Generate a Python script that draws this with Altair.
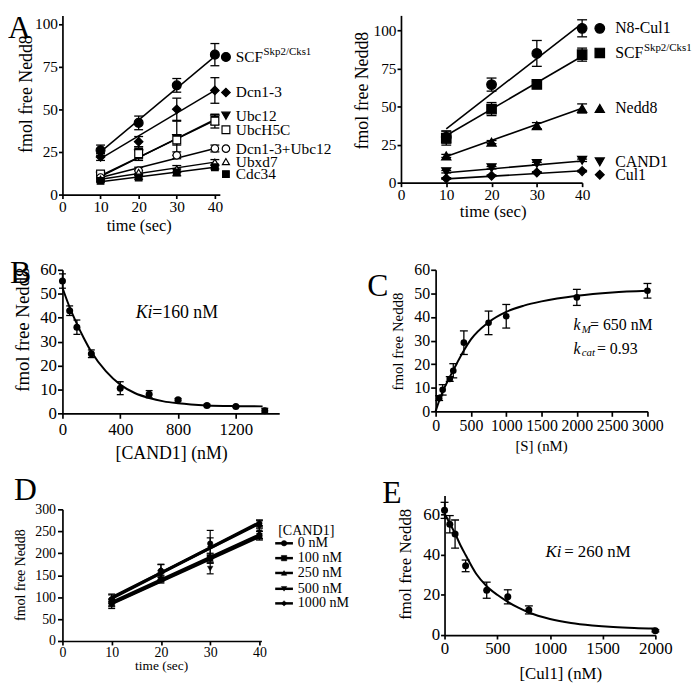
import altair as alt
import pandas as pd

FONT = "Liberation Serif"

# ---------------- data ----------------
TIME = [10, 20, 30, 40]
FIT_T = [10, 40]

# Panel A (left)
A1_NAMES = ["SCF", "Dcn1-3", "Ubc12", "UbcH5C", "Dcn1-3+Ubc12", "Ubxd7", "Cdc34"]
A1_SCF = [26, 42, 64, 82]
A1_DCN = [22, 31, 50, 61]
A1_UBC12 = [11, 24, 33, 44]
A1_UBCH5C = [12, 24, 32, 43]
A1_DCN_UBC12 = [10, 14, 23, 27]
A1_UBXD7 = [9, 13, 15, 19]
A1_CDC34 = [8, 10, 13, 16]
A1_SCF_ERR = [3, 4, 4, 6.5]
A1_DCN_ERR = [2, 3, 6.5, 7.5]
A1_UBC12_ERR = [1.5, 4, 10, 3]
A1_UBCH5C_ERR = [1.5, 3, 3, 4]
A1_DCN_UBC12_ERR = [1, 2, 2, 2]
A1_UBXD7_ERR = [1, 1, 2, 1.5]
A1_CDC34_ERR = [0.5, 1, 2, 1]
A1_FIT_START = [25, 21, 10.5, 11, 10, 9, 7.5]
A1_FIT_END = [81, 61, 44, 43.5, 27, 19, 16]
A1_LABEL_Y = [80.6, 59.8, 46.2, 38.0, 26.9, 19.3, 12.0]

# Panel A (right)
A2_NAMES = ["N8-Cul1", "SCF", "Nedd8", "CAND1", "Cul1"]
A2_N8CUL1 = [30, 64.5, 85, 101.5]
A2_SCF = [29.3, 48.4, 64.6, 84.2]
A2_NEDD8 = [17.6, 26.7, 37.5, 48.8]
A2_CAND1 = [7.2, 9.8, 12.6, 14.7]
A2_CUL1 = [2.8, 4.6, 6.7, 7.6]
A2_N8CUL1_ERR = [4, 4.3, 8.5, 5.6]
A2_SCF_ERR = [4.6, 4.3, 2, 4.3]
A2_NEDD8_ERR = [1, 1, 2, 3]
A2_CAND1_ERR = [0.8, 0.8, 0.8, 0.8]
A2_CUL1_ERR = [0.5, 0.5, 0.5, 0.5]
A2_FIT_START = [35.4, 31, 17.2, 6.5, 2.5]
A2_FIT_END = [104.8, 83.1, 49, 14.3, 7.8]
A2_LABEL_Y = [101.5, 85.3, 48.8, 13.7, 5.2]

# Panel B
B_CONC = [0, 50, 100, 200, 400, 600, 800, 1000, 1200, 1400]
B_VAL = [55.3, 42.9, 36, 24.9, 10.5, 8, 5.7, 3.3, 2.9, 1.1]
B_ERR = [3, 2, 3, 1.6, 2.7, 1.5, 0.5, 0.5, 0.3, 1]
B_CURVE_X = [0, 50, 100, 150, 200, 300, 400, 500, 600, 700, 800, 1000, 1200, 1385]
B_CURVE_Y = [52.5, 44.3, 37.4, 31.2, 25.7, 17.6, 12.0, 8.5, 6.4, 5.0, 4.2, 3.3, 3.0, 2.9]

# Panel C
C_CONC = [50, 100, 200, 250, 400, 750, 1000, 2000, 3000]
C_VAL = [5.6, 9.1, 13.7, 17.2, 29.1, 37.5, 40.3, 48.3, 51.1]
C_ERR = [1, 2.2, 1, 3, 5, 5, 5, 3.4, 3.1]
C_CURVE_X = [0, 50, 100, 200, 300, 400, 500, 750, 1000, 1250, 1500, 2000, 2500, 3000]
C_CURVE_Y = [0, 4.5, 8.4, 14.5, 20.3, 25.8, 30.5, 37.8, 42.2, 44.8, 46.6, 49.0, 50.4, 51.1]

# Panel D
D_NAMES = ["0 nM", "100 nM", "250 nM", "500 nM", "1000 nM"]
D_0 = [95, 160, 222, 268]
D_100 = [88, 140, 188, 240]
D_250 = [86, 145, 190, 245]
D_500 = [82, 150, 165, 248]
D_1000 = [97, 162, 215, 262]
D_0_ERR = [10, 15, 30, 8]
D_100_ERR = [8, 8, 10, 10]
D_250_ERR = [8, 10, 10, 12]
D_500_ERR = [8, 10, 12, 15]
D_1000_ERR = [10, 12, 20, 12]
D_FIT_START = [97, 86, 88, 85, 99]
D_FIT_END = [270, 240, 242, 238, 268]
D_LEGEND_Y = [222.6, 188.8, 155, 118.9, 85.7]

# Panel E
E_CONC = [0, 50, 100, 200, 400, 600, 800, 2000]
E_VAL = [62, 55.1, 50.2, 34.4, 22.3, 19, 12.5, 2.1]
E_ERR = [4, 4.3, 7, 2.9, 4, 3.5, 2, 0.5]
E_CURVE_X = [0, 50, 100, 150, 200, 300, 400, 500, 600, 700, 800, 1000, 1200, 1400, 1600, 1800, 2000]
E_CURVE_Y = [60.5, 55.5, 50.5, 44.8, 39.8, 30.5, 24.3, 20.0, 16.5, 13.6, 11.2, 8.0, 6.0, 4.8, 4.0, 3.5, 3.2]


# ---------------- helpers ----------------
def series_df(names, vals, errs, xs):
    rows = []
    for n, v, e in zip(names, vals, errs):
        for xi, vi, ei in zip(xs, v, e):
            rows.append({"s": n, "x": xi, "y": vi, "lo": vi - ei, "hi": vi + ei})
    return pd.DataFrame(rows)


def fit_df(names, starts, ends, xs):
    rows = []
    for n, a, b in zip(names, starts, ends):
        rows.append({"s": n, "x": xs[0], "y": a})
        rows.append({"s": n, "x": xs[1], "y": b})
    return pd.DataFrame(rows)


ONE = pd.DataFrame({"k": [0]})


def frame(W, H, L, T, R, B):
    return alt.Chart(ONE).mark_rule(opacity=0, strokeWidth=0).encode(
        x=alt.value(-L), x2=alt.value(W + R), y=alt.value(-T), y2=alt.value(H + B))


def letter(txt, x, y, baseline="alphabetic", size=32):
    return alt.Chart(ONE).mark_text(align="left", baseline=baseline, fontSize=size,
                                    font=FONT, color="black").encode(
        x=alt.value(x), y=alt.value(y), text=alt.value(txt))


def errbars(df, X, Y, cap, sw=1.3):
    base = alt.Chart(df)
    r = base.mark_rule(color="black", strokeWidth=sw).encode(x=X("x"), y=Y("lo"), y2=alt.Y2("hi"))
    t1 = base.mark_tick(orient="horizontal", color="black", size=cap, thickness=sw, opacity=1).encode(
        x=X("x"), y=Y("lo"))
    t2 = base.mark_tick(orient="horizontal", color="black", size=cap, thickness=sw, opacity=1).encode(
        x=X("x"), y=Y("hi"))
    return [r, t1, t2]


def points(df, X, Y, names, shapes, fills, sizes, sw=1.2):
    return alt.Chart(df).mark_point(stroke="black", strokeWidth=sw, opacity=1, fillOpacity=1).encode(
        x=X("x"), y=Y("y"),
        shape=alt.Shape("s:N", scale=alt.Scale(domain=names, range=shapes), legend=None),
        fill=alt.Fill("s:N", scale=alt.Scale(domain=names, range=fills), legend=None),
        size=alt.Size("s:N", scale=alt.Scale(domain=names, range=sizes), legend=None),
    )


def axis(values, title, lab, tit, tx, ty, tick=4, pad=1):
    return alt.Axis(values=values, title=title, labelFontSize=lab, titleFontSize=tit,
                    tickSize=tick, labelPadding=pad, titleX=tx, titleY=ty,
                    titleBaseline="middle", titleAlign="center", format="d",
                    labelFont=FONT, titleFont=FONT, titleFontWeight="normal",
                    labelColor="black", titleColor="black", domainColor="black",
                    tickColor="black", domainWidth=1.7, tickWidth=1.7, grid=False,
                    labelFlush=False, labelOverlap=False)


def encoders(xdom, ydom, xaxis, yaxis):
    xs = alt.Scale(domain=xdom, nice=False, zero=False)
    ys = alt.Scale(domain=ydom, nice=False, zero=False)

    def X(f):
        return alt.X(f, type="quantitative", scale=xs, axis=xaxis)

    def Y(f):
        return alt.Y(f, type="quantitative", scale=ys, axis=yaxis)
    return X, Y


def text_layer(df, X, Y, size, align="left", style="normal", dx=0, dy=0):
    return alt.Chart(df).mark_text(align=align, baseline="middle", fontSize=size, font=FONT,
                                   fontStyle=style, color="black", dx=dx, dy=dy).encode(
        x=X("x"), y=Y("y"), text="t:N")


# ---------------- Panel A left ----------------
W, H, L, T, R, B = 159, 181, 55, 2, 128, 61
X, Y = encoders([0, 41.3], [0, 105],
                axis([0, 10, 20, 30, 40], "time (sec)", 15.5, 16.5, 77, 31, tick=4, pad=1),
                axis([0, 25, 50, 75, 100], "fmol free Nedd8", 15.5, 18, -36, 79, tick=4, pad=1))
a1_shapes = ["circle", "diamond", "triangle-down", "square", "circle", "triangle-up", "square"]
a1_fills = ["black", "black", "black", "white", "white", "white", "black"]
a1_sizes = [80, 45, 55, 55, 55, 50, 50]
a1_df = series_df(A1_NAMES, [A1_SCF, A1_DCN, A1_UBC12, A1_UBCH5C, A1_DCN_UBC12, A1_UBXD7, A1_CDC34],
                  [A1_SCF_ERR, A1_DCN_ERR, A1_UBC12_ERR, A1_UBCH5C_ERR, A1_DCN_UBC12_ERR,
                   A1_UBXD7_ERR, A1_CDC34_ERR], TIME)
a1_fit = fit_df(A1_NAMES, A1_FIT_START, A1_FIT_END, FIT_T)
a1_leg = pd.DataFrame({"s": A1_NAMES, "x": [42.9] * 7, "y": A1_LABEL_Y})
a1_lab = pd.DataFrame({"t": A1_NAMES, "x": [45.5] * 7, "y": A1_LABEL_Y})
a1_sup = pd.DataFrame({"t": ["Skp2/Cks1"], "x": [45.5], "y": [A1_LABEL_Y[0]]})
panel_a1 = alt.layer(
    frame(W, H, L, T, R, B),
    alt.Chart(a1_fit).mark_line(color="black", strokeWidth=1.5).encode(x=X("x"), y=Y("y"), detail="s:N"),
    *errbars(a1_df, X, Y, 9),
    points(a1_df, X, Y, A1_NAMES, a1_shapes, a1_fills, a1_sizes),
    points(a1_leg, X, Y, A1_NAMES, a1_shapes, a1_fills, a1_sizes),
    text_layer(a1_lab, X, Y, 15.5),
    text_layer(a1_sup, X, Y, 11, dx=28, dy=-5),
    letter("A", -L, -T, baseline="top"),
).properties(width=W, height=H)

# ---------------- Panel A right ----------------
W, H, L, T, R, B = 183, 169, 49, 4, 110, 71
X, Y = encoders([0, 40], [0, 110],
                axis([0, 10, 20, 30, 40], "time (sec)", 15.5, 17, 92.7, 29, tick=4, pad=1),
                axis([0, 25, 50, 75, 100], "fmol free Nedd8", 15.5, 18, -39, 75.5, tick=4, pad=1))
a2_shapes = ["circle", "square", "triangle-up", "triangle-down", "diamond"]
a2_fills = ["black"] * 5
a2_sizes = [95, 80, 65, 65, 45]
a2_df = series_df(A2_NAMES, [A2_N8CUL1, A2_SCF, A2_NEDD8, A2_CAND1, A2_CUL1],
                  [A2_N8CUL1_ERR, A2_SCF_ERR, A2_NEDD8_ERR, A2_CAND1_ERR, A2_CUL1_ERR], TIME)
a2_fit = fit_df(A2_NAMES, A2_FIT_START, A2_FIT_END, FIT_T)
a2_leg = pd.DataFrame({"s": A2_NAMES, "x": [43.9] * 5, "y": A2_LABEL_Y})
a2_lab = pd.DataFrame({"t": A2_NAMES, "x": [47.3] * 5, "y": A2_LABEL_Y})
a2_sup = pd.DataFrame({"t": ["Skp2/Cks1"], "x": [47.3], "y": [A2_LABEL_Y[1]]})
panel_a2 = alt.layer(
    frame(W, H, L, T, R, B),
    alt.Chart(a2_fit).mark_line(color="black", strokeWidth=1.6).encode(x=X("x"), y=Y("y"), detail="s:N"),
    *errbars(a2_df, X, Y, 10),
    points(a2_df, X, Y, A2_NAMES, a2_shapes, a2_fills, a2_sizes),
    points(a2_leg, X, Y, A2_NAMES, a2_shapes, a2_fills, a2_sizes),
    text_layer(a2_lab, X, Y, 16),
    text_layer(a2_sup, X, Y, 11, dx=29, dy=-5),
).properties(width=W, height=H)

# ---------------- Panel B ----------------
W, H, L, T, R, B = 219, 145, 53, 15, 70, 52
X, Y = encoders([0, 1500], [0, 60],
                axis([0, 400, 800, 1200], "[CAND1] (nM)", 17, 18, 109.8, 41, tick=5, pad=3),
                axis([0, 10, 20, 30, 40, 50, 60], "fmol free Nedd8", 17, 19, -40, 60, tick=5, pad=1))
b_df = pd.DataFrame({"s": "B", "x": B_CONC, "y": B_VAL,
                     "lo": [v - e for v, e in zip(B_VAL, B_ERR)], "hi": [v + e for v, e in zip(B_VAL, B_ERR)]})
b_curve = pd.DataFrame({"x": B_CURVE_X, "y": B_CURVE_Y})
panel_b = alt.layer(
    frame(W, H, L, T, R, B),
    alt.Chart(b_curve).mark_line(color="black", strokeWidth=2, interpolate="monotone").encode(x=X("x"), y=Y("y")),
    *errbars(b_df, X, Y, 7),
    alt.Chart(b_df).mark_circle(color="black", size=50, opacity=1).encode(x=X("x"), y=Y("y")),
    text_layer(pd.DataFrame({"t": ["Ki"], "x": [507], "y": [41.8]}), X, Y, 18, style="italic"),
    text_layer(pd.DataFrame({"t": ["=160 nM"], "x": [621], "y": [41.8]}), X, Y, 18),
    letter("B", -L, 13),
).properties(width=W, height=H)

# ---------------- Panel C ----------------
W, H, L, T, R, B = 214, 143, 84, 15, 44, 54
X, Y = encoders([0, 3000], [0, 60],
                axis([0, 500, 1000, 1500, 2000, 2500, 3000], "[S] (nM)", 16, 15, 106.5, 35, tick=5, pad=1),
                axis([0, 10, 20, 30, 40, 50, 60], "fmol free Nedd8", 16, 15, -38.5, 72, tick=5, pad=1))
c_df = pd.DataFrame({"s": "C", "x": C_CONC, "y": C_VAL,
                     "lo": [v - e for v, e in zip(C_VAL, C_ERR)], "hi": [v + e for v, e in zip(C_VAL, C_ERR)]})
c_curve = pd.DataFrame({"x": C_CURVE_X, "y": C_CURVE_Y})
panel_c = alt.layer(
    frame(W, H, L, T, R, B),
    alt.Chart(c_curve).mark_line(color="black", strokeWidth=2, interpolate="monotone").encode(x=X("x"), y=Y("y")),
    *errbars(c_df, X, Y, 8),
    alt.Chart(c_df).mark_circle(color="black", size=45, opacity=1).encode(x=X("x"), y=Y("y")),
    text_layer(pd.DataFrame({"t": ["k", "k"], "x": [1953, 1953], "y": [36.4, 26.6]}), X, Y, 16, style="italic"),
    text_layer(pd.DataFrame({"t": ["M", "cat"], "x": [2068, 2068], "y": [34.6, 24.8]}), X, Y, 11, style="italic"),
    text_layer(pd.DataFrame({"t": ["= 650 nM", "= 0.93"], "x": [2187, 2285], "y": [36.4, 26.6]}), X, Y, 16),
    letter("C", -69, 26),
).properties(width=W, height=H)

# ---------------- Panel D ----------------
W, H, L, T, R, B = 201, 133, 49, 45, 92, 42
X, Y = encoders([0, 40.4], [0, 300],
                axis([0, 10, 20, 30, 40], "time (sec)", 14, 13.5, 99.7, 25, tick=4, pad=1),
                axis([0, 50, 100, 150, 200, 250, 300], "fmol free Nedd8", 14, 14, -42, 66, tick=5, pad=2))
d_shapes = ["circle", "square", "triangle-up", "triangle-down", "diamond"]
d_fills = ["black"] * 5
d_sizes = [30, 30, 28, 28, 28]
d_df = series_df(D_NAMES, [D_0, D_100, D_250, D_500, D_1000],
                 [D_0_ERR, D_100_ERR, D_250_ERR, D_500_ERR, D_1000_ERR], TIME)
d_fit = fit_df(D_NAMES, D_FIT_START, D_FIT_END, FIT_T)
d_leg_line = pd.DataFrame({"s": D_NAMES, "x": [43.2] * 5, "x2": [46.8] * 5, "y": D_LEGEND_Y})
d_leg_pt = pd.DataFrame({"s": D_NAMES, "x": [45.0] * 5, "y": D_LEGEND_Y})
d_leg_txt = pd.DataFrame({"t": D_NAMES, "x": [47.8] * 5, "y": D_LEGEND_Y})
panel_d = alt.layer(
    frame(W, H, L, T, R, B),
    alt.Chart(d_fit).mark_line(color="black", strokeWidth=3).encode(x=X("x"), y=Y("y"), detail="s:N"),
    *errbars(d_df, X, Y, 7, sw=1.2),
    points(d_df, X, Y, D_NAMES, d_shapes, d_fills, d_sizes, sw=0.5),
    alt.Chart(d_leg_line).mark_rule(color="black", strokeWidth=2.5).encode(x=X("x"), x2=alt.X2("x2"), y=Y("y")),
    points(d_leg_pt, X, Y, D_NAMES, d_shapes, d_fills, d_sizes, sw=0.5),
    text_layer(d_leg_txt, X, Y, 14.2),
    text_layer(pd.DataFrame({"t": ["[CAND1]"], "x": [43.8], "y": [251]}), X, Y, 14.2),
    letter("D", -L, -9),
).properties(width=W, height=H)

# ---------------- Panel E ----------------
W, H, L, T, R, B = 213, 141, 93, 31, 36, 48
X, Y = encoders([0, 2000], [0, 69.4],
                axis([0, 500, 1000, 1500, 2000], "[Cul1] (nM)", 17, 17, 117, 39, tick=4, pad=2),
                axis([0, 20, 40, 60], "fmol free Nedd8", 17, 17, -39.5, 69, tick=4, pad=1))
e_df = pd.DataFrame({"s": "E", "x": E_CONC, "y": E_VAL,
                     "lo": [v - e for v, e in zip(E_VAL, E_ERR)], "hi": [v + e for v, e in zip(E_VAL, E_ERR)]})
e_curve = pd.DataFrame({"x": E_CURVE_X, "y": E_CURVE_Y})
panel_e = alt.layer(
    frame(W, H, L, T, R, B),
    alt.Chart(e_curve).mark_line(color="black", strokeWidth=2, interpolate="monotone").encode(x=X("x"), y=Y("y")),
    *errbars(e_df, X, Y, 8),
    alt.Chart(e_df).mark_circle(color="black", size=50, opacity=1).encode(x=X("x"), y=Y("y")),
    text_layer(pd.DataFrame({"t": ["Ki"], "x": [958], "y": [41.5]}), X, Y, 17, style="italic"),
    text_layer(pd.DataFrame({"t": ["= 260 nM"], "x": [1135], "y": [41.5]}), X, Y, 17),
    letter("E", -63, 8),
).properties(width=W, height=H)

chart = alt.concat(
    panel_a1, panel_a2, panel_b, panel_c, panel_d, panel_e, columns=2
).properties(
    padding=0, spacing=0, align="none", bounds="full", background="white"
).resolve_scale(
    shape="independent", fill="independent", size="independent"
).configure(font=FONT).configure_view(stroke=None)

chart.save("out.html", embed_options={"renderer": "svg", "actions": False})
